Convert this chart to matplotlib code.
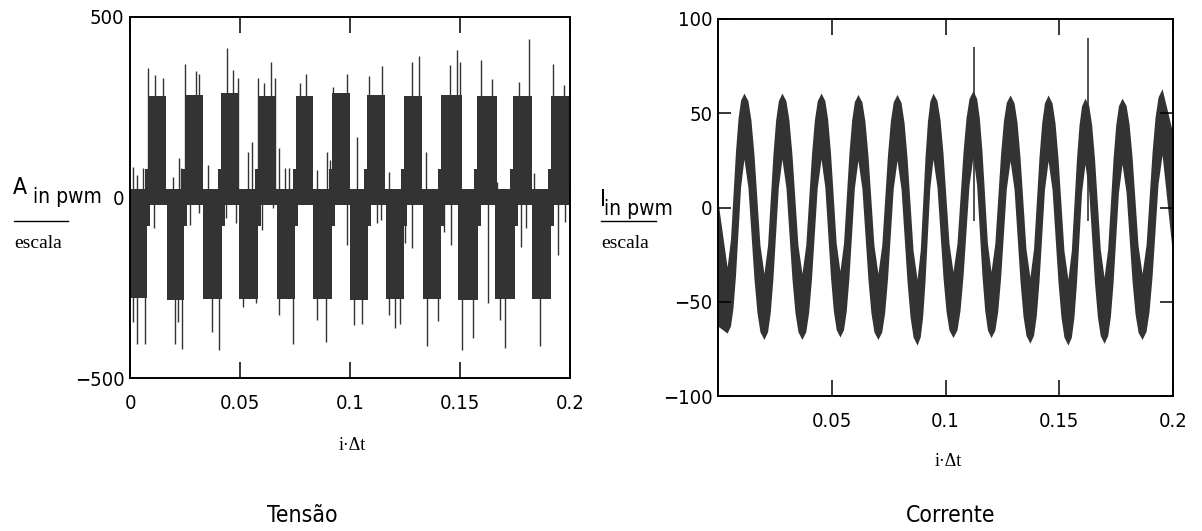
import os
import numpy as np
import matplotlib.pyplot as plt
from matplotlib import font_manager
from matplotlib.font_manager import FontProperties

# ---- data ----
# voltage: PWM blocks (start, end, level) for the positive and negative half cycles
pos_t0 = [0.0082, 0.0250, 0.0414, 0.0582, 0.0755, 0.0918, 0.1077, 0.1245, 0.1414, 0.1577, 0.1741, 0.1914]
pos_t1 = [0.0164, 0.0332, 0.0495, 0.0664, 0.0832, 0.1000, 0.1159, 0.1327, 0.1509, 0.1668, 0.1827, 0.1995]
pos_lv = [280, 284, 290, 280, 280, 290, 285, 282, 285, 282, 280, 282]
neg_t0 = [0.0000, 0.0168, 0.0332, 0.0495, 0.0668, 0.0832, 0.1000, 0.1164, 0.1332, 0.1491, 0.1659, 0.1827]
neg_t1 = [0.0077, 0.0245, 0.0418, 0.0582, 0.0750, 0.0918, 0.1082, 0.1245, 0.1414, 0.1582, 0.1750, 0.1914]
neg_lv = [-279, -284, -282, -280, -282, -280, -283, -281, -282, -284, -280, -282]
zero_band = (-20, 24)

# isolated spikes (time, peak value)
spike_t = [0.0082, 0.0114, 0.0150, 0.0250, 0.0300, 0.0314, 0.0441, 0.0468, 0.0491, 0.0582,
           0.0609, 0.0641, 0.0659, 0.0773, 0.0800, 0.0923, 0.0986, 0.1086, 0.1145, 0.1282,
           0.1314, 0.1455, 0.1486, 0.1500, 0.1595, 0.1645, 0.1768, 0.1814, 0.1923, 0.1973,
           0.0014, 0.0032, 0.0059, 0.0195, 0.0223, 0.0232, 0.0355, 0.0536, 0.0555, 0.0677,
           0.0705, 0.0723, 0.0850, 0.0895, 0.0909, 0.1032, 0.1177, 0.1345, 0.1668, 0.1745, 0.1836,
           0.0014, 0.0032, 0.0068, 0.0205, 0.0218, 0.0236, 0.0373, 0.0405, 0.0514, 0.0573,
           0.0677, 0.0741, 0.0850, 0.0891, 0.1018, 0.1055, 0.1177, 0.1205, 0.1227, 0.1350,
           0.1400, 0.1509, 0.1559, 0.1682, 0.1705, 0.1864,
           0.0109, 0.0273, 0.0314, 0.0436, 0.0482, 0.0600, 0.0650, 0.0986, 0.1123, 0.1141,
           0.1250, 0.1282, 0.1427, 0.1459, 0.1627, 0.1777, 0.1800, 0.1945, 0.1977]
spike_v = [359, 339, 331, 370, 350, 342, 414, 353, 331, 331,
           317, 375, 331, 317, 342, 306, 342, 337, 364, 375,
           392, 367, 409, 375, 381, 328, 320, 439, 370, 312,
           85, 62, 82, 57, 110, 82, 90, 126, 154, 137,
           82, 82, 76, 126, 104, 167, 71, 126, 43, 115, 68,
           -345, -406, -406, -406, -345, -420, -373, -422, -303, -292,
           -325, -406, -339, -400, -353, -350, -325, -361, -350, -411,
           -342, -422, -389, -339, -417, -411,
           -85, -76, -43, -57, -70, -90, -29, -132, -70, -62,
           -126, -140, -96, -132, -292, -137, -85, -160, -68]

# current: outer extremes of the rippled sine band
peak_t = [0.0114, 0.0281, 0.0453, 0.0615, 0.0787, 0.0945, 0.1121, 0.1284, 0.1451, 0.1613, 0.1776, 0.1952]
peak_v = [60.7, 60.7, 60.7, 60.0, 60.0, 60.7, 62.0, 59.7, 59.7, 58.0, 58.0, 63.0]
trough_t = [0.0040, 0.0202, 0.0369, 0.0536, 0.0703, 0.0875, 0.1033, 0.1200, 0.1371, 0.1538, 0.1697, 0.1864]
trough_v = [-66.6, -70.0, -70.0, -68.7, -70.0, -73.0, -69.0, -69.0, -72.0, -73.0, -72.0, -70.0]
start_v, end_v = -30.0, 6.0
half_f = [0.0, 0.2, 0.35, 0.5, 0.65, 0.8, 1.0]
half_s = [0.0, 0.10, 0.28, 0.5, 0.72, 0.90, 1.0]
half_band = [35, 46, 60, 66, 60, 46, 35]
cur_spike_t = [0.1125, 0.1626]
cur_spike_lo = [-7, -7]
cur_spike_hi = [85, 90]

xt_left = [0, 0.05, 0.1, 0.15, 0.2]
xt_left_lab = ['0', '0.05', '0.1', '0.15', '0.2']
xt_right = [0.05, 0.1, 0.15, 0.2]
xt_right_lab = ['0.05', '0.1', '0.15', '0.2']
yt_left = [-500, 0, 500]
yt_right = [-100, -50, 0, 50, 100]

# ---- fonts: look for a condensed sans ----
files = [f.fname for f in font_manager.fontManager.ttflist]
narrow_file = None
for p in ['liberationsansnarrow-regular', 'dejavusanscondensed.', 'robotocondensed-regular',
          'roboto_condensed-regular', 'robotocondensed[', 'opensans_condensed-regular',
          'opensanscondensed-regular', 'notosans-condensed.', 'notosansdisplay-condensed.']:
    hits = [f for f in files if p in os.path.basename(f).lower()]
    if hits:
        narrow_file = hits[0]
        break
if narrow_file is None:
    cond = [f for f in font_manager.fontManager.ttflist
            if str(f.stretch) in ('condensed', 'semi-condensed', '75', '87.5')
            and f.style == 'normal' and f.weight in (400, 'normal', 'regular')]
    if cond:
        narrow_file = cond[0].fname
shrink = 1.0 if narrow_file else 0.84

def nfont(size):
    if narrow_file:
        return FontProperties(fname=narrow_file, size=size)
    return FontProperties(family='Liberation Sans', size=size * shrink)

serif = 'Liberation Serif'
ink = '#333333'
W, H = 1202, 531

def px(x, y):
    return x / W, 1 - y / H

fig = plt.figure(figsize=(W / 100, H / 100), dpi=100)
ax1 = fig.add_axes([130 / W, 1 - 378 / H, 440 / W, 361 / H])
ax2 = fig.add_axes([718 / W, 1 - 396 / H, 455 / W, 377 / H])

# ---- voltage ----
ramp_w, ramp_h = 0.0012, 80
ax1.fill_between([0, 0.2], zero_band[0], zero_band[1], color=ink, lw=0)
for t0, t1, lv in zip(pos_t0, pos_t1, pos_lv):
    ax1.fill_between([t0, t1], 0, lv, color=ink, lw=0)
    ax1.fill_between([t0 - ramp_w, t0], 0, ramp_h, color=ink, lw=0)
for t0, t1, lv in zip(neg_t0, neg_t1, neg_lv):
    ax1.fill_between([t0, t1], 0, lv, color=ink, lw=0)
    ax1.fill_between([t1, t1 + ramp_w], 0, -ramp_h, color=ink, lw=0)
ax1.vlines(spike_t, 0, spike_v, color=ink, lw=1.0)

# ---- current ----
ext = sorted([(t, v - half_band[0] / 2) for t, v in zip(peak_t, peak_v)] +
             [(t, v + half_band[0] / 2) for t, v in zip(trough_t, trough_v)])
ct, cv, cb = [0.0], [start_v], [half_band[3]]
for (ta, va), (tb, vb) in zip(ext[:-1], ext[1:]):
    for f, s, b in zip(half_f, half_s, half_band):
        if f == 0 and ct[-1] >= ta:
            continue
        ct.append(ta + f * (tb - ta))
        cv.append(va + s * (vb - va))
        cb.append(b)
ct.append(0.2)
cv.append(end_v)
cb.append(half_band[3])
ct, cv, cb = np.array(ct), np.array(cv), np.array(cb)
ax2.fill_between(ct, cv - cb / 2, cv + cb / 2, color=ink, lw=0)
ax2.vlines(cur_spike_t, cur_spike_lo, cur_spike_hi, color=ink, lw=1.2)

# ---- axes ----
for ax in (ax1, ax2):
    ax.set_xlim(0, 0.2)
    for s in ax.spines.values():
        s.set_linewidth(1.4)
        s.set_color('black')
        s.set_zorder(5)
    ax.tick_params(axis='x', direction='in', top=True, length=11.5, width=1.1, pad=11.5)

ax1.set_ylim(-500, 500)
ax1.set_xticks(xt_left, xt_left_lab)
ax1.set_yticks(yt_left, [str(v).replace('-', '\u2212') for v in yt_left])
ax1.tick_params(axis='y', length=0, pad=4)

ax2.set_ylim(-100, 100)
ax2.set_xticks(xt_right, xt_right_lab)
ax2.set_yticks(yt_right, [str(v).replace('-', '\u2212') for v in yt_right])
ax2.tick_params(axis='y', direction='in', right=True, length=9.5, width=1.1, pad=4)

for ax in (ax1, ax2):
    for lab in ax.get_xticklabels() + ax.get_yticklabels():
        lab.set_fontproperties(nfont(14.5))

# ---- labels ----
fig.text(*px(352, 445), 'i\u00b7\u0394t', family=serif, fontsize=13, ha='center', va='center')
fig.text(*px(948, 461), 'i\u00b7\u0394t', family=serif, fontsize=13, ha='center', va='center')
fig.text(*px(302, 516), 'Tens\u00e3o', fontproperties=nfont(16.5), ha='center', va='center')
fig.text(*px(951, 516), 'Corrente', fontproperties=nfont(16.5), ha='center', va='center')

for xa, ya, lead, xs, x0, x1 in [(13, 188, 'A', 33, 14, 68), (600, 200, 'I', 604, 601, 656)]:
    fig.text(*px(xa, ya), lead, fontproperties=nfont(16.5), ha='left', va='center')
    fig.text(*px(xs, ya + 9), 'in pwm', fontproperties=nfont(15), ha='left', va='center')
    fig.add_artist(plt.Line2D([x0 / W, x1 / W], [1 - 221 / H, 1 - 221 / H], color='black', lw=1))
    fig.text(*px(x0, 244), 'escala', family=serif, fontsize=14, ha='left', va='center')

fig.savefig('out.png', dpi=100)
